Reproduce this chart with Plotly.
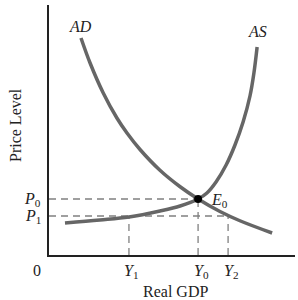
import plotly.graph_objects as go

# Aggregate demand curve
ad_x = [1.30, 1.67, 2.20, 2.76, 3.17, 3.70, 4.51, 5.33, 6.06, 6.95, 7.76, 9.07]
ad_y = [8.68, 7.68, 6.49, 5.48, 4.88, 4.22, 3.39, 2.73, 2.24, 1.74, 1.37, 0.88]

# Aggregate supply curve
as_x = [0.65, 2.07, 3.25, 4.51, 5.33, 6.06, 6.42, 6.79, 7.20, 7.56, 7.89, 8.17, 8.33, 8.46]
as_y = [1.28, 1.40, 1.52, 1.76, 1.96, 2.24, 2.48, 2.92, 3.60, 4.40, 5.32, 6.36, 7.28, 8.32]

# Key levels
y0, p0 = 6.06, 2.24
y1, y2, p1 = 3.25, 7.28, 1.56

x_tick_labels = ["Y<sub>1</sub>", "Y<sub>0</sub>", "Y<sub>2</sub>"]
x_tick_vals = [y1, y0, y2]
y_tick_labels = ["P<sub>0</sub>", "P<sub>1</sub>"]
y_tick_vals = [p0, p1]

SERIF = "Liberation Serif"
CURVE = "#666666"
DASH = "#808080"

fig = go.Figure()

dash_style = dict(color=DASH, width=1.3, dash="7px,5px")
fig.add_trace(go.Scatter(x=[0, y0], y=[p0, p0], mode="lines", line=dash_style, hoverinfo="skip"))
fig.add_trace(go.Scatter(x=[0, y2], y=[p1, p1], mode="lines", line=dash_style, hoverinfo="skip"))
fig.add_trace(go.Scatter(x=[y1, y1], y=[0, p1], mode="lines", line=dash_style, hoverinfo="skip"))
fig.add_trace(go.Scatter(x=[y0, y0], y=[0, p0], mode="lines", line=dash_style, hoverinfo="skip"))
fig.add_trace(go.Scatter(x=[y2, y2], y=[0, p1], mode="lines", line=dash_style, hoverinfo="skip"))

fig.add_trace(go.Scatter(x=ad_x, y=ad_y, mode="lines",
                         line=dict(color=CURVE, width=3.5, shape="spline", smoothing=1.0), hoverinfo="skip"))
fig.add_trace(go.Scatter(x=as_x, y=as_y, mode="lines",
                         line=dict(color=CURVE, width=3.5, shape="spline", smoothing=1.0), hoverinfo="skip"))
fig.add_trace(go.Scatter(x=[y0], y=[p0], mode="markers", marker=dict(color="black", size=8), hoverinfo="skip"))

ann = []
font = dict(family=SERIF, size=16, color="#222222")
ann.append(dict(x=ad_x[0], y=ad_y[0], text="<i>AD</i>", showarrow=False, yshift=12, font=font))
ann.append(dict(x=as_x[-1], y=as_y[-1], text="<i>AS</i>", showarrow=False, yshift=16, font=font))
ann.append(dict(x=y0, y=p0, text="<i>E</i><sub>0</sub>", showarrow=False, xanchor="left", xshift=11, yshift=-1, font=font))
for v, t in zip(y_tick_vals, y_tick_labels):
    ann.append(dict(x=0, y=v, text="<i>" + t[:1] + "</i>" + t[1:], showarrow=False, xanchor="right", xshift=-6, yshift=0, font=font))
for v, t in zip(x_tick_vals, x_tick_labels):
    ann.append(dict(x=v, y=0, text="<i>" + t[:1] + "</i>" + t[1:], showarrow=False, yanchor="top", yshift=-5, xshift=3, font=font))
ann.append(dict(x=0, y=0, text="0", showarrow=False, xanchor="right", yanchor="top", xshift=-6, yshift=-5, font=font))
ann.append(dict(xref="paper", yref="paper", x=0.5, y=0, text="Real GDP", showarrow=False, yanchor="top", yshift=-26, xshift=3, font=font))
ann.append(dict(xref="paper", yref="paper", x=0, y=0.5, text="Price Level", showarrow=False, textangle=-90, xanchor="center", xshift=-34, yshift=5, font=font))

fig.update_layout(
    width=298, height=300,
    margin=dict(l=49, r=3, t=5, b=45),
    paper_bgcolor="white", plot_bgcolor="white",
    showlegend=False,
    annotations=ann,
    xaxis=dict(range=[0, 10], showgrid=False, zeroline=False, showticklabels=False, ticks="",
               showline=True, linecolor="#222222", linewidth=2),
    yaxis=dict(range=[0, 10], showgrid=False, zeroline=False, showticklabels=False, ticks="",
               showline=True, linecolor="#222222", linewidth=2),
)

fig.write_html("out.html")
